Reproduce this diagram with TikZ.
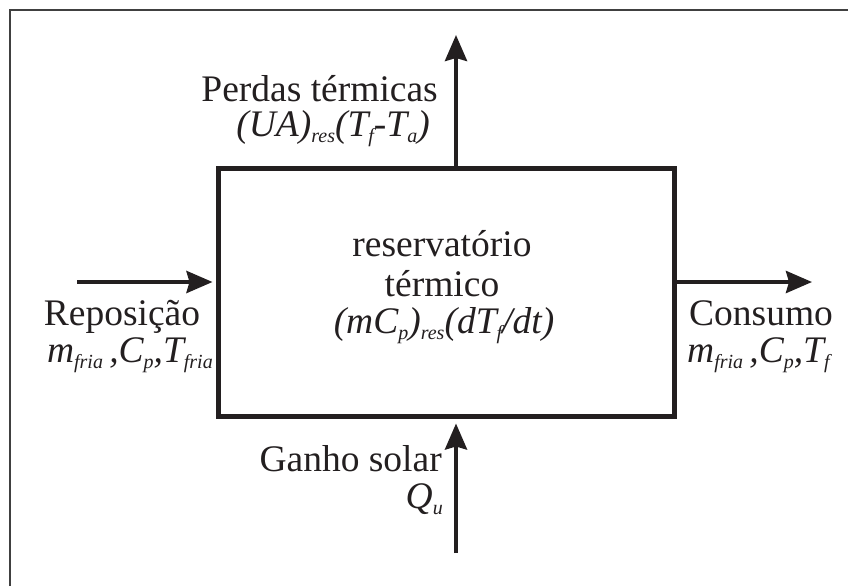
\documentclass[tikz,border=0pt]{standalone}
\usepackage{fontspec}
\setmainfont{Liberation Serif}
\usetikzlibrary{arrows.meta}
\newcommand{\sbs}[1]{\raisebox{-6pt}{\fontsize{20}{20}\selectfont #1}}
\definecolor{ink}{HTML}{231F20}
\definecolor{framec}{HTML}{404040}
\begin{document}
\begin{tikzpicture}[x=1pt,y=-1pt,
  lbl/.style={inner sep=0pt, font=\fontsize{37.5}{40}\selectfont, text=ink},
  arr/.style={line width=4pt, draw=ink, -{Stealth[length=26pt,width=22pt,inset=3pt]}}]
\useasboundingbox (0,0) rectangle (848,586);
\draw[line width=1.5pt, draw=framec] (10,586) -- (10,10) -- (848,10);
\node[draw=ink, line width=5pt, minimum width=456pt, minimum height=248pt, inner sep=0pt] (box) at (446,292) {};
\coordinate (topend) at (456,35);
\coordinate (lstart) at (77,282);
\coordinate (rend) at (812,282);
\coordinate (bstart) at (456,553);
\draw[arr] (topend |- box.north) -- (topend);
\draw[arr, shorten >=3pt] (lstart) -- (lstart -| box.west);
\draw[arr] (rend -| box.east) -- (rend);
\draw[arr, shorten >=5pt] (bstart) -- (bstart |- box.south);
\node[lbl, anchor=base east] (perdas) at (438,101) {Perdas térmicas};
\node[lbl, anchor=base east] (ua) at (430,136) {\itshape (UA)\sbs{res}(T\sbs{f}-T\sbs{a})};
\node[lbl, anchor=base] (repo) at (122,325) {Reposição};
\node[lbl, anchor=base east] (mleft) at (213,362) {\itshape m\sbs{fria}\,,C\sbs{p},T\sbs{fria}};
\node[lbl, anchor=base west] (cons) at (689,325) {Consumo};
\node[lbl, anchor=base west] (mright) at (687,362) {\itshape m\sbs{fria}\,,C\sbs{p},T\sbs{f}};
\node[lbl, anchor=base] (res1) at (442,256) {reservatório};
\node[lbl, anchor=base] (res2) at (442,296) {térmico};
\node[lbl, anchor=base] (res3) at (444,333) {\itshape (mC\sbs{p})\sbs{res}(dT\sbs{f}/dt)};
\node[lbl, anchor=base east] (ganho) at (442,471) {Ganho solar};
\node[lbl, anchor=base east] (qu) at (443,508) {\itshape Q\sbs{u}};
\end{tikzpicture}
\end{document}
